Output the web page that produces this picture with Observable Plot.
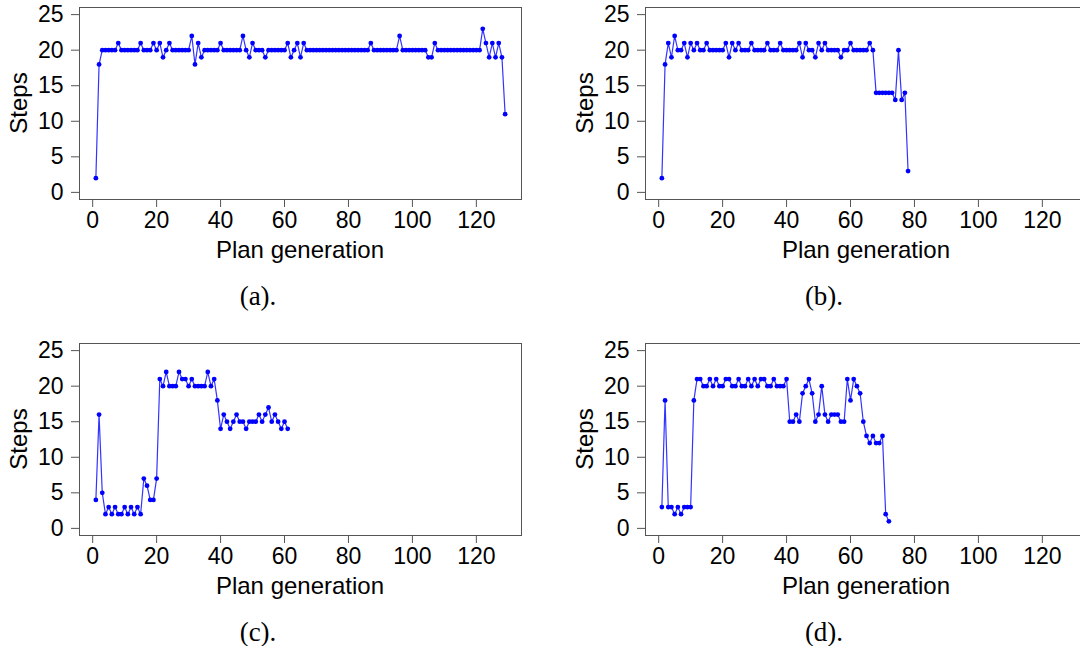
<!DOCTYPE html>
<html><head><meta charset="utf-8">
<script src="https://cdn.jsdelivr.net/npm/d3@7"></script>
<script src="https://cdn.jsdelivr.net/npm/@observablehq/plot@0.6"></script>
<style>
html,body{margin:0;padding:0;background:#fff;}
#root{position:relative;width:1080px;height:646px;overflow:hidden;background:#fff;}
.panel{position:absolute;width:540px;height:320px;}
.panel svg{position:absolute;left:0;top:0;}
.xlab{position:absolute;left:300px;top:250px;transform:translate(-50%,-50%);font-family:"Liberation Sans",Arial,sans-serif;font-size:24px;line-height:1;white-space:nowrap;color:#000;}
.ylab{position:absolute;left:19px;top:103px;transform:translate(-50%,-50%) rotate(-90deg);font-family:"Liberation Sans",Arial,sans-serif;font-size:24px;line-height:1;white-space:nowrap;color:#000;}
.cap{position:absolute;left:258px;top:296px;transform:translate(-50%,-50%);font-family:"Liberation Serif",serif;font-size:27px;line-height:1;white-space:nowrap;color:#000;}
</style></head>
<body><div id="root"></div>
<script>
const xTicks = [0, 20, 40, 60, 80, 100, 120];
const yTicks = [0, 5, 10, 15, 20, 25];
const panelLabels = ["(a).", "(b).", "(c).", "(d)."];
const xTitle = "Plan generation";
const yTitle = "Steps";

const stepsA = [2,18,20,20,20,20,20,21,20,20,20,20,20,20,21,20,20,20,21,20,
  21,19,20,21,20,20,20,20,20,20,22,18,21,19,20,20,20,20,20,21,
  20,20,20,20,20,20,22,20,19,21,20,20,20,19,20,20,20,20,20,20,
  21,19,20,21,19,21,20,20,20,20,20,20,20,20,20,20,20,20,20,20,
  20,20,20,20,20,20,21,20,20,20,20,20,20,20,20,22,20,20,20,20,
  20,20,20,20,19,19,21,20,20,20,20,20,20,20,20,20,20,20,20,20,
  20,23,21,19,21,19,21,19,11];
const stepsB = [2,18,21,19,22,20,20,21,19,21,20,21,20,20,21,20,20,20,20,20,
  21,19,21,20,21,20,20,20,21,20,20,20,20,21,20,20,20,21,20,20,
  20,20,20,21,19,21,20,20,19,21,20,21,20,20,20,20,19,20,20,21,
  20,20,20,20,20,21,20,14,14,14,14,14,14,13,20,13,14,3];
const stepsC = [4,16,5,2,3,2,3,2,2,3,2,3,2,3,2,7,6,4,4,7,
  21,20,22,20,20,20,22,21,21,20,21,20,20,20,20,22,20,21,18,14,
  16,15,14,15,16,15,15,14,15,15,15,16,15,16,17,15,16,15,14,15,14];
const stepsD = [3,18,3,3,2,3,2,3,3,3,18,21,21,20,20,21,20,21,20,20,
  21,21,20,20,21,20,20,21,20,21,20,21,21,20,20,21,20,20,20,21,
  15,15,16,15,19,20,21,19,15,16,20,16,15,16,16,16,15,15,21,18,
  21,20,19,15,13,12,13,12,12,13,2,1];

const series = [stepsA, stepsB, stepsC, stepsD];
const offsets = [[0, 0], [566, 0], [0, 336], [566, 336]];

const root = document.getElementById("root");
series.forEach((vals, k) => {
  const data = vals.map((v, i) => ({gen: i + 1, steps: v}));
  const panel = document.createElement("div");
  panel.className = "panel";
  panel.style.left = offsets[k][0] + "px";
  panel.style.top = offsets[k][1] + "px";
  const chart = Plot.plot({
    width: 540,
    height: 270,
    marginLeft: 79,
    marginRight: 19,
    marginTop: 7,
    marginBottom: 71,
    style: {fontFamily: "'Liberation Sans', Arial, sans-serif", fontSize: "23px", background: "transparent", overflow: "visible", color: "#000"},
    x: {domain: [-4.12, 134.12]},
    y: {domain: [-1, 26]},
    marks: [
      Plot.frame({stroke: "#555", strokeWidth: 1}),
      Plot.axisX({ticks: xTicks, tickSize: 8, tickPadding: 4, label: null, stroke: "#555", fill: "#000", tickFormat: d => String(d)}),
      Plot.axisY({ticks: yTicks, tickSize: 8, tickPadding: 8, label: null, stroke: "#555", fill: "#000", tickFormat: d => String(d)}),
      Plot.line(data, {x: "gen", y: "steps", stroke: "#0000ff", strokeWidth: 1.2, strokeOpacity: 0.8}),
      Plot.dot(data, {x: "gen", y: "steps", r: 2.4, fill: "#0000ff", stroke: "none"})
    ]
  });
  panel.appendChild(chart);
  const xl = document.createElement("div"); xl.className = "xlab"; xl.textContent = xTitle; panel.appendChild(xl);
  const yl = document.createElement("div"); yl.className = "ylab"; yl.textContent = yTitle; panel.appendChild(yl);
  const cp = document.createElement("div"); cp.className = "cap"; cp.textContent = panelLabels[k]; panel.appendChild(cp);
  root.appendChild(panel);
});
</script>
</body></html>
